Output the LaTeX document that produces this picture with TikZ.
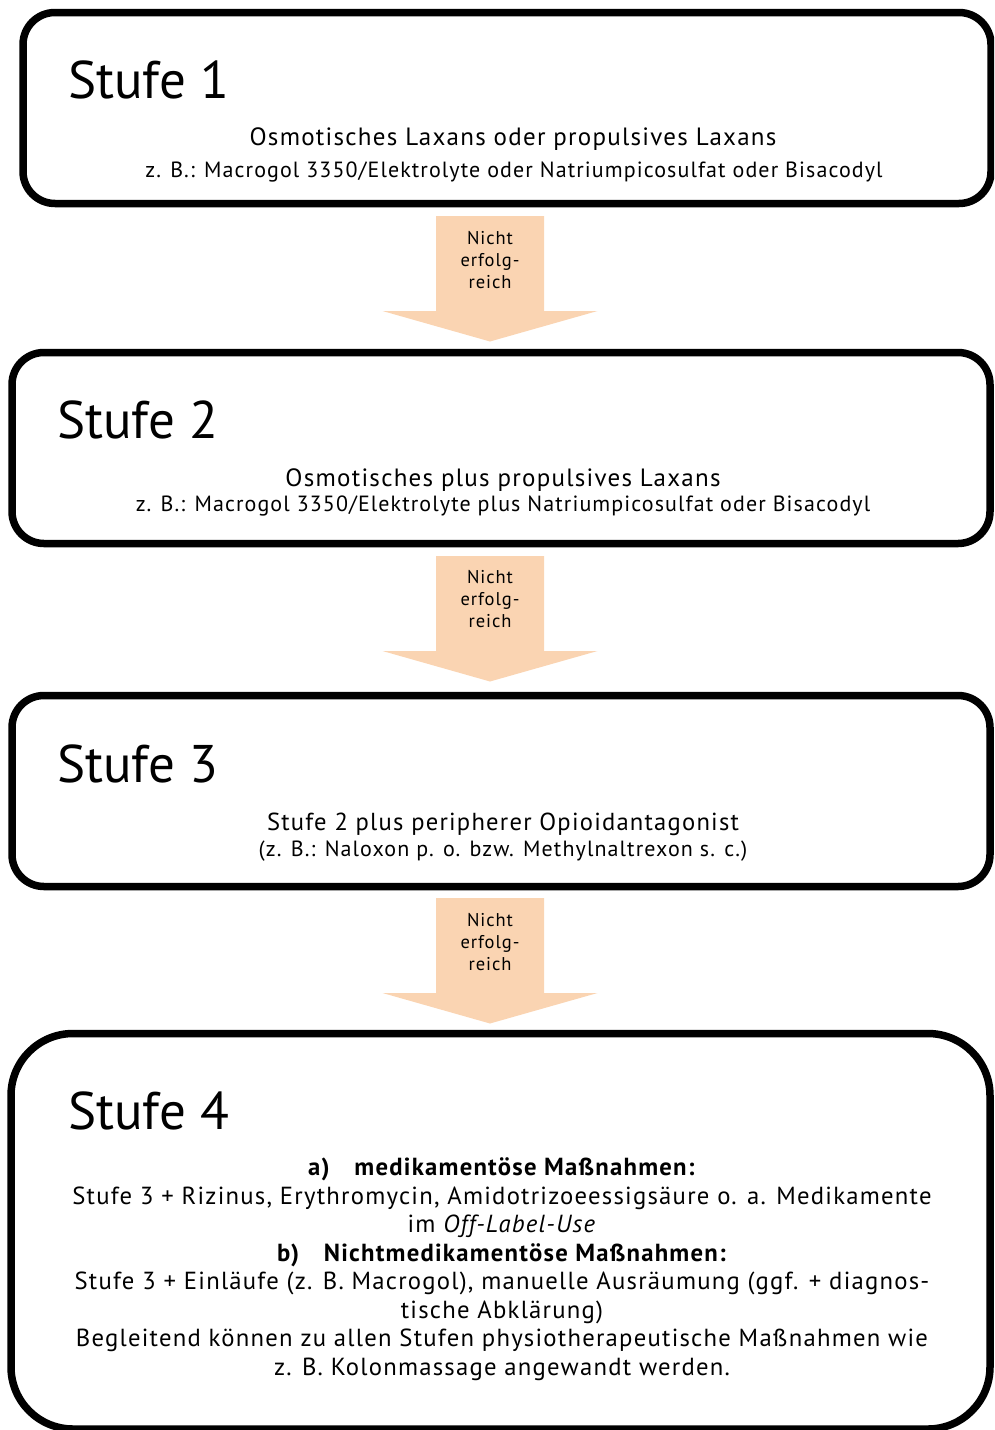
\documentclass[tikz,border=0pt]{standalone}
\usepackage{fontspec}
\setmainfont{PT Sans}
\newfontfamily\trk[LetterSpace=5]{PT Sans}
\definecolor{peach}{HTML}{FAD4B2}
\begin{document}
\begin{tikzpicture}[x=1pt,y=-1pt,
  stage/.style={draw=black,line width=7.5pt,rounded corners=32pt,inner sep=0pt,fill=white},
  head/.style={anchor=base west,inner sep=0pt,font=\fontsize{53}{60}\selectfont},
  body/.style={anchor=base,inner sep=0pt,align=center},
  flow/.style={fill=peach,draw=none},
  flowtxt/.style={inner sep=0pt,align=center,font=\trk\fontsize{18.5}{22}\selectfont}]
\useasboundingbox (0,0) rectangle (994,1430);
\clip (0,0) rectangle (994,1430);
% stage boxes
\node[stage,minimum width=968pt,minimum height=191pt] (s1) at (507,108) {};
\node[stage,minimum width=978pt,minimum height=191pt] (s2) at (501,448) {};
\node[stage,minimum width=978pt,minimum height=191pt] (s3) at (501,791) {};
\node[stage,minimum width=979pt,minimum height=395.5pt,rounded corners=62pt] (s4) at (500.5,1231.25) {};
% headings
\node[head] (h1) at (68,98) {Stufe 1};
\node[head] (h2) at (57,438) {Stufe 2};
\node[head] (h3) at (57,782) {Stufe 3};
\node[head] (h4) at (68,1129) {Stufe 4};
% body texts
\node[body,font=\trk\fontsize{25}{28}\selectfont] (t1a) at (513,145) {Osmotisches Laxans oder propulsives Laxans};
\node[body,font=\trk\fontsize{22}{25}\selectfont] (t1b) at (514,177) {z. B.: Macrogol 3350/Elektrolyte oder Natriumpicosulfat oder Bisacodyl};
\node[body,font=\trk\fontsize{25}{28}\selectfont] (t2a) at (503,486) {Osmotisches plus propulsives Laxans};
\node[body,font=\trk\fontsize{22}{25}\selectfont] (t2b) at (503,511) {z. B.: Macrogol 3350/Elektrolyte plus Natriumpicosulfat oder Bisacodyl};
\node[body,font=\trk\fontsize{24.6}{28}\selectfont] (t3a) at (503,830) {Stufe 2 plus peripherer Opioidantagonist};
\node[body,font=\trk\fontsize{22}{24}\selectfont] (t3b) at (503,856) {(z. B.: Naloxon p. o. bzw. Methylnaltrexon s. c.)};
\node[body,font=\trk\fontsize{24.7}{28.5}\selectfont] (t4) at (502,1375) {\textbf{a)\quad medikamentöse Maßnahmen:}\\
Stufe 3 + Rizinus, Erythromycin, Amidotrizoeessigsäure o. a. Medikamente\\
im \textit{Off-Label-Use}\\
\textbf{b)\quad Nichtmedikamentöse Maßnahmen:}\\
Stufe 3 + Einläufe (z. B. Macrogol), manuelle Ausräumung (ggf. + diagnos-\\
tische Abklärung)\\
Begleitend können zu allen Stufen physiotherapeutische Maßnahmen wie\\
z. B. Kolonmassage angewandt werden.};
% block arrows between stages
\foreach \n/\t in {1/216,2/556,3/898}{
  \fill[flow] (436,\t) -- (544,\t) -- (544,\t+95) -- (597.5,\t+95) -- (490,\t+125.5)
     -- (382.5,\t+95) -- (436,\t+95) -- cycle;
}
\node[flowtxt] (a1) at (490,260) {Nicht\\erfolg-\\reich};
\node[flowtxt] (a2) at (490,599) {Nicht\\erfolg-\\reich};
\node[flowtxt] (a3) at (490,942) {Nicht\\erfolg-\\reich};
\end{tikzpicture}
\end{document}
